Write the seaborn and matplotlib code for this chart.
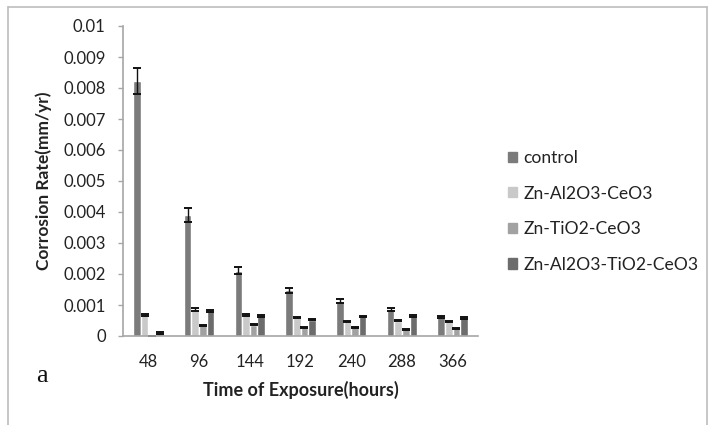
import numpy as np
import pandas as pd
import matplotlib
matplotlib.use("Agg")
import matplotlib.pyplot as plt
from matplotlib.lines import Line2D
import seaborn as sns

times = ["48", "96", "144", "192", "240", "288", "366"]
series = ["control", "Zn-Al2O3-CeO3", "Zn-TiO2-CeO3", "Zn-Al2O3-TiO2-CeO3"]
control = [0.00822, 0.0039, 0.0021, 0.00148, 0.00113, 0.00085, 0.00062]
al2o3 = [0.00069, 0.00086, 0.00069, 0.00060, 0.00048, 0.00050, 0.00047]
tio2 = [0.0, 0.00034, 0.00037, 0.00028, 0.00028, 0.00022, 0.00025]
al_ti = [0.00010, 0.00080, 0.00064, 0.00053, 0.00063, 0.00065, 0.00058]
control_err = [0.00042, 0.00022, 0.00011, 0.00008, 0.00005, 0.00005, 0.00003]
al2o3_err = [0.00003, 0.00004, 0.00003, 0.00002, 0.00002, 0.00002, 0.00002]
tio2_err = [0.0, 0.00002, 0.00002, 0.00002, 0.00002, 0.00002, 0.00002]
al_ti_err = [0.00002, 0.00004, 0.00003, 0.00002, 0.00003, 0.00003, 0.00003]
yticks = [0, 0.001, 0.002, 0.003, 0.004, 0.005, 0.006, 0.007, 0.008, 0.009, 0.01]
ytick_labels = ["0", "0.001", "0.002", "0.003", "0.004", "0.005", "0.006",
                "0.007", "0.008", "0.009", "0.01"]
colors = ["#7b7b7b", "#c9c9c9", "#a2a2a2", "#6c6c6c"]

vals = [control, al2o3, tio2, al_ti]
errs = [control_err, al2o3_err, tio2_err, al_ti_err]
rows = []
for s, v, e in zip(series, vals, errs):
    for t, vv, ee in zip(times, v, e):
        rows.append({"time": t, "series": s, "rate": vv, "err": ee})
df = pd.DataFrame(rows)

sns.set_theme(style="white")
plt.rcParams['font.family'] = ['Lato', 'DejaVu Sans']

W, H = 708, 425
FS = 12
fig = plt.figure(figsize=(W / 100, H / 100), dpi=100)
ax = fig.add_axes([123 / W, 1 - 336 / H, (478 - 123) / W, (336 - 26) / H])

sns.barplot(data=df, x="time", y="rate", hue="series", order=times,
            hue_order=series, palette=colors, width=0.6, errorbar=None,
            saturation=1, ax=ax, legend=False)

# error bars from bar geometry
for container, e in zip(ax.containers, errs):
    xs = [p.get_x() + p.get_width() / 2 for p in container.patches]
    ys = [p.get_height() for p in container.patches]
    ax.errorbar(xs, ys, yerr=list(e), fmt="none", ecolor="#111111",
                elinewidth=1.0, capsize=3.0, capthick=1.4)

ax.set_ylim(0, 0.01)
ax.set_xlim(-0.5, len(times) - 0.5)
ax.set_yticks(yticks)
ax.set_yticklabels(ytick_labels)
for sp in ["top", "right"]:
    ax.spines[sp].set_visible(False)
for sp in ["left", "bottom"]:
    ax.spines[sp].set_color("#a6a6a6")
    ax.spines[sp].set_linewidth(1.2)
ax.tick_params(axis="y", left=True, length=3.5, width=1, color="#a6a6a6",
               pad=9, labelsize=FS, labelcolor="#222222")
ax.tick_params(axis="x", bottom=False, length=0, pad=13, labelsize=FS,
               labelcolor="#222222")
ax.set_xlabel("Time of Exposure(hours)", fontsize=13, fontweight="bold",
              labelpad=8, color="#222222")
ax.set_ylabel("Corrosion Rate(mm/yr)", fontsize=12.5, fontweight="bold",
              labelpad=8, color="#222222")

handles = [plt.Rectangle((0, 0), 1, 1, color=c) for c in colors]
fig.legend(handles, series, loc="upper left",
           bbox_to_anchor=(508 / W, 1 - 150 / H), frameon=False,
           fontsize=12.6, labelspacing=1.12, handlelength=0.52,
           handleheight=0.52, handletextpad=0.36, borderpad=0,
           borderaxespad=0, labelcolor="#222222")

fig.text(36 / W, 1 - 376 / H, "a", fontsize=19, family="Liberation Serif",
         va="center", ha="left", color="#111111")

# figure border
bc = "#bdbdbd"
fig.add_artist(Line2D([8 / W, 8 / W], [0, 1 - 7 / H], color=bc, lw=1.2,
                      transform=fig.transFigure))
fig.add_artist(Line2D([8 / W, 707 / W], [1 - 7 / H, 1 - 7 / H], color=bc,
                      lw=1.2, transform=fig.transFigure))
fig.add_artist(Line2D([707 / W, 707 / W], [0, 1 - 7 / H], color=bc, lw=1.2,
                      transform=fig.transFigure))

fig.savefig("out.png", dpi=100)
